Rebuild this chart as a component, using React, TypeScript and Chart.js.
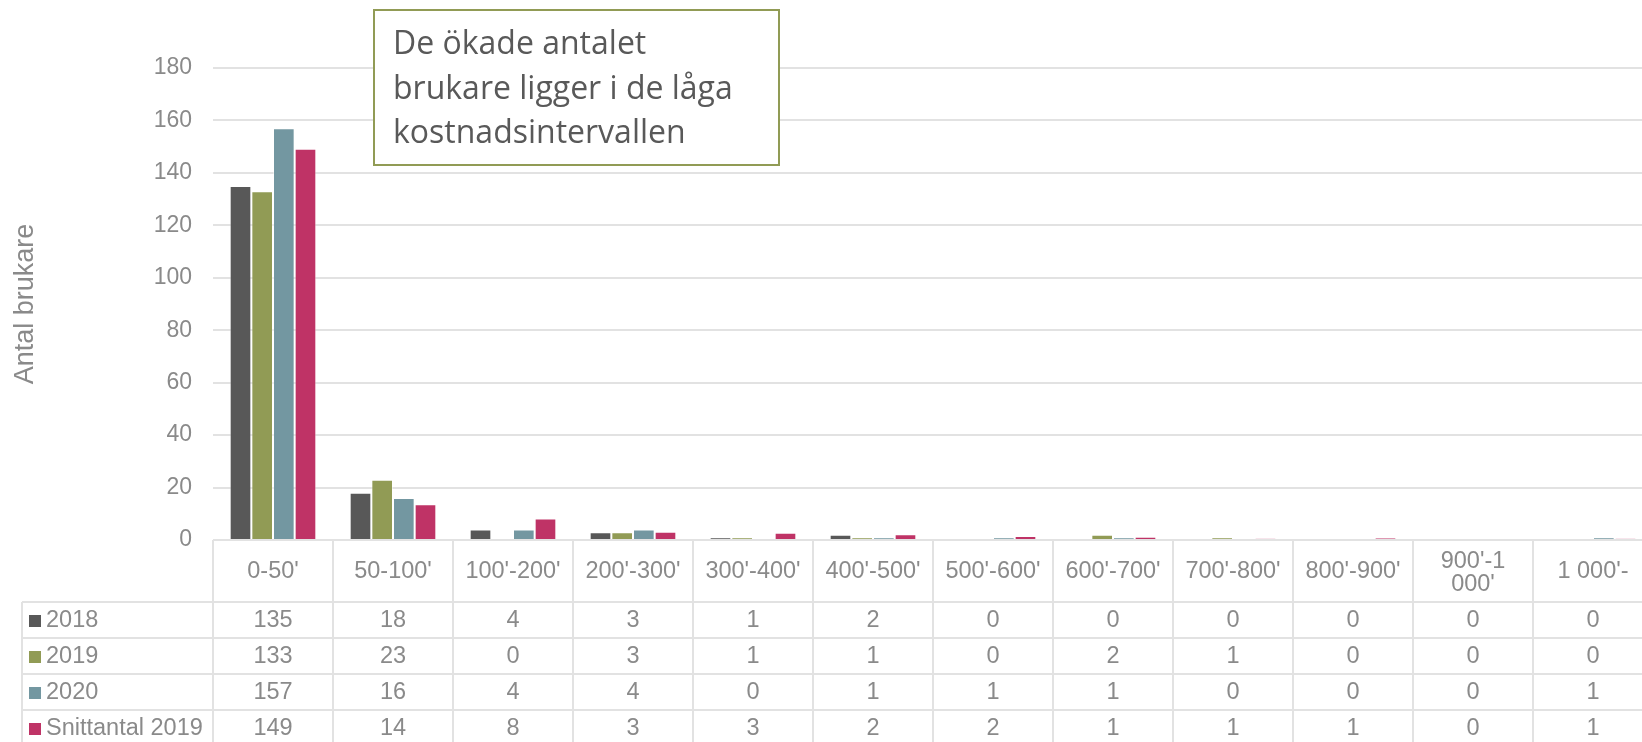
import React, { useEffect, useRef } from "react";
import { Chart, registerables } from "chart.js";

Chart.register(...registerables);

const categories = [
  "0-50'", "50-100'", "100'-200'", "200'-300'", "300'-400'", "400'-500'",
  "500'-600'", "600'-700'", "700'-800'", "800'-900'", "900'-1 000'", "1 000'-",
];
const seriesNames = ["2018", "2019", "2020", "Snittantal 2019"];
const values2018 = [135, 18, 4, 3, 1, 2, 0, 0, 0, 0, 0, 0];
const values2019 = [133, 23, 0, 3, 1, 1, 0, 2, 1, 0, 0, 0];
const values2020 = [157, 16, 4, 4, 0, 1, 1, 1, 0, 0, 0, 1];
const valuesSnitt = [149.2, 13.6, 8.2, 3.1, 2.8, 2.2, 1.5, 1.2, 0.6, 0.8, 0.3, 0.6];
const seriesColors = ["#585858", "#919b55", "#7397a1", "#bf3366"];
const yTicks = [0, 20, 40, 60, 80, 100, 120, 140, 160, 180];
const yTitle = "Antal brukare";
const annotationLines = ["De ökade antalet", "brukare ligger i de låga", "kostnadsintervallen"];

const FONT = "'Liberation Sans', Arial, sans-serif";
const TEXT_COLOR = "#8a8a8a";
const LINE_COLOR = "#e2e2e2";

const tablePlugin = {
  id: "tablePlugin",
  afterDraw(chart: any) {
    const ctx = chart.ctx;
    const x = chart.scales.x;
    const area = chart.chartArea;
    const all = [values2018, values2019, values2020, valuesSnitt];
    const n = categories.length;
    const colW = (area.right - area.left) / n;
    const top = area.bottom;
    const headerBottom = top + 62;
    const rowH = 36;
    const legendLeft = 22;
    ctx.save();
    ctx.strokeStyle = LINE_COLOR;
    ctx.lineWidth = 2;
    for (let i = 0; i <= n; i++) {
      const bx = Math.round(area.left + i * colW);
      ctx.beginPath();
      ctx.moveTo(bx, top);
      ctx.lineTo(bx, headerBottom + rowH * 5);
      ctx.stroke();
    }
    for (let r = 0; r <= 4; r++) {
      const y = Math.round(headerBottom + r * rowH);
      ctx.beginPath();
      ctx.moveTo(legendLeft, y);
      ctx.lineTo(area.right, y);
      ctx.stroke();
    }
    ctx.beginPath();
    ctx.moveTo(legendLeft, headerBottom);
    ctx.lineTo(legendLeft, headerBottom + rowH * 5);
    ctx.stroke();

    ctx.fillStyle = TEXT_COLOR;
    ctx.font = `23.5px ${FONT}`;
    ctx.textAlign = "center";
    ctx.textBaseline = "middle";
    categories.forEach((c, i) => {
      const cx = x.getPixelForValue(i);
      const cy = (top + headerBottom) / 2 + 1;
      if (ctx.measureText(c).width > colW - 10 && c.lastIndexOf(" ") > 0) {
        const k = c.lastIndexOf(" ");
        ctx.fillText(c.slice(0, k), cx, cy - 10);
        ctx.fillText(c.slice(k + 1), cx, cy + 13);
      } else {
        ctx.fillText(c, cx, cy);
      }
    });

    all.forEach((vals, r) => {
      const cy = headerBottom + r * rowH + rowH / 2 + 0.5;
      ctx.fillStyle = seriesColors[r];
      ctx.fillRect(29, Math.round(cy - 6), 12, 12);
      ctx.fillStyle = TEXT_COLOR;
      ctx.textAlign = "left";
      ctx.fillText(seriesNames[r], 46, cy);
      ctx.textAlign = "center";
      vals.forEach((v, i) => {
        ctx.fillText(String(Math.round(v)), x.getPixelForValue(i), cy);
      });
    });

    ctx.save();
    ctx.translate(26, (area.top + area.bottom) / 2);
    ctx.rotate(-Math.PI / 2);
    ctx.font = `27px ${FONT}`;
    ctx.fillStyle = TEXT_COLOR;
    ctx.textAlign = "center";
    ctx.textBaseline = "middle";
    ctx.fillText(yTitle, 0, 0);
    ctx.restore();

    ctx.fillStyle = "#ffffff";
    ctx.fillRect(374, 10, 405, 155);
    ctx.strokeStyle = "#919b55";
    ctx.lineWidth = 2;
    ctx.strokeRect(374, 10, 405, 155);
    ctx.fillStyle = "#595959";
    ctx.font = "32px 'Open Sans', sans-serif";
    ctx.textAlign = "left";
    ctx.textBaseline = "middle";
    annotationLines.forEach((l, i) => {
      ctx.fillText(l, 393, 45 + i * 44.5);
    });
    ctx.restore();
  },
};

export default function App() {
  const ref = useRef<HTMLCanvasElement>(null);
  useEffect(() => {
    const canvas = ref.current!;
    const W = 1672;
    const H = 760;
    const chart = new Chart(canvas, {
      type: "bar",
      data: {
        labels: categories,
        datasets: [values2018, values2019, values2020, valuesSnitt].map((d, i) => ({
          label: seriesNames[i],
          data: d,
          backgroundColor: seriesColors[i],
          borderColor: "rgba(255,255,255,0.45)",
          borderWidth: 1,
          categoryPercentage: 0.722,
          barPercentage: 1,
        })),
      },
      options: {
        responsive: false,
        animation: false,
        devicePixelRatio: 1,
        layout: { padding: { left: 0, right: W - 1653, top: 68, bottom: H - 540 } },
        plugins: { legend: { display: false }, tooltip: { enabled: false } },
        scales: {
          x: { display: false },
          y: {
            min: 0,
            max: 180,
            afterFit: (s: any) => { s.width = 213; },
            afterBuildTicks: (s: any) => { s.ticks = yTicks.map((v) => ({ value: v })); },
            border: { display: false },
            grid: { color: LINE_COLOR, lineWidth: 2, drawTicks: false },
            ticks: {
              padding: 21,
              color: TEXT_COLOR,
              font: { family: FONT, size: 23 },
            },
          },
        },
      },
      plugins: [tablePlugin],
    });
    return () => chart.destroy();
  }, []);
  return (
    <div style={{ position: "fixed", left: 0, top: 0, width: 1642, height: 742, overflow: "hidden", background: "#fff" }}>
      <canvas ref={ref} width={1672} height={760} style={{ display: "block" }} />
    </div>
  );
}
